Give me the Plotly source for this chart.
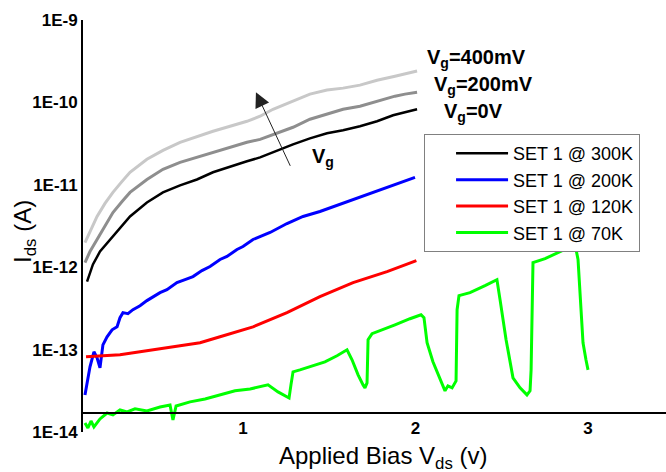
import plotly.graph_objects as go

# ---------------- data ----------------
# SET 1 @ 300K (Vg = 0 V), black
x_300 = [0.096, 0.130, 0.171, 0.229, 0.287, 0.345, 0.443, 0.536, 0.635, 0.733, 0.826, 0.925,
         1.023, 1.099, 1.186, 1.290, 1.388, 1.487, 1.580, 1.678, 1.777, 1.870, 1.939, 2.009]
i_300 = [6.68e-13, 1.08e-12, 1.55e-12, 2.17e-12, 3.03e-12, 4.13e-12, 6.11e-12, 8.09e-12, 9.84e-12,
         1.16e-11, 1.42e-11, 1.67e-11, 1.93e-11, 2.15e-11, 2.55e-11, 3.10e-11, 3.66e-11, 4.22e-11,
         4.59e-11, 5.13e-11, 5.90e-11, 6.98e-11, 7.60e-11, 8.26e-11]

# 300K, Vg = 200 mV (mid grey)
x_vg200 = [0.084, 0.113, 0.154, 0.200, 0.246, 0.299, 0.345, 0.443, 0.536, 0.635, 0.733, 0.826, 0.925,
           1.023, 1.099, 1.214, 1.290, 1.388, 1.487, 1.580, 1.678, 1.777, 1.881, 1.939, 2.009]
i_vg200 = [1.14e-12, 1.55e-12, 2.17e-12, 3.21e-12, 4.61e-12, 6.28e-12, 8.09e-12, 1.16e-11, 1.54e-11,
           1.87e-11, 2.15e-11, 2.48e-11, 2.85e-11, 3.28e-11, 3.56e-11, 4.34e-11, 4.99e-11, 6.25e-11,
           7.18e-11, 8.26e-11, 9.00e-11, 1.04e-10, 1.19e-10, 1.26e-10, 1.33e-10]

# 300K, Vg = 400 mV (light grey)
x_vg400 = [0.084, 0.113, 0.154, 0.200, 0.246, 0.299, 0.345, 0.443, 0.536, 0.635, 0.733, 0.826, 0.925,
           1.023, 1.099, 1.174, 1.272, 1.388, 1.487, 1.580, 1.678, 1.777, 1.881, 1.939, 2.009]
i_vg400 = [1.99e-12, 2.71e-12, 4.13e-12, 5.94e-12, 8.09e-12, 1.10e-11, 1.42e-11, 2.04e-11, 2.62e-11,
           3.28e-11, 3.88e-11, 4.47e-11, 5.13e-11, 5.90e-11, 6.79e-11, 8.26e-11, 1.00e-10, 1.26e-10,
           1.41e-10, 1.49e-10, 1.62e-10, 1.86e-10, 2.08e-10, 2.20e-10, 2.40e-10]

# SET 1 @ 200K, blue
x_200 = [0.084, 0.096, 0.113, 0.136, 0.154, 0.171, 0.188, 0.212, 0.241, 0.270, 0.287, 0.304, 0.333,
         0.362, 0.403, 0.443, 0.478, 0.519, 0.559, 0.617, 0.664, 0.710, 0.762, 0.809, 0.867, 0.907,
         0.965, 1.000, 1.058, 1.099, 1.157, 1.255, 1.348, 1.446, 1.545, 1.638, 1.736, 1.835, 1.910, 1.997]
i_200 = [2.82e-14, 3.94e-14, 6.18e-14, 9.40e-14, 7.94e-14, 6.01e-14, 1.14e-13, 1.43e-13, 1.74e-13,
         1.89e-13, 2.44e-13, 2.81e-13, 2.73e-13, 3.05e-13, 3.41e-13, 3.93e-13, 4.39e-13, 4.91e-13,
         5.33e-13, 6.50e-13, 7.06e-13, 7.69e-13, 9.10e-13, 1.02e-12, 1.24e-12, 1.35e-12, 1.64e-12,
         1.78e-12, 2.17e-12, 2.36e-12, 2.64e-12, 3.39e-12, 4.13e-12, 4.74e-12, 5.61e-12, 6.64e-12,
         7.85e-12, 9.29e-12, 1.04e-11, 1.23e-11]

# SET 1 @ 120K, red
x_120 = [0.090, 0.171, 0.287, 0.403, 0.559, 0.751, 0.867, 1.058, 1.255, 1.446, 1.638, 1.835, 2.005]
i_120 = [8.17e-14, 8.41e-14, 8.65e-14, 9.40e-14, 1.05e-13, 1.21e-13, 1.43e-13, 1.89e-13, 2.81e-13,
         4.39e-13, 6.50e-13, 8.83e-13, 1.20e-12]

# SET 1 @ 70K, green
x_70 = [0.084, 0.101, 0.119, 0.136, 0.171, 0.212, 0.246, 0.287, 0.328, 0.374, 0.443, 0.519, 0.577,
        0.594, 0.612, 0.693, 0.780, 0.867, 0.954, 1.041, 1.110, 1.145, 1.203, 1.267, 1.278, 1.290,
        1.330, 1.406, 1.475, 1.545, 1.603, 1.632, 1.667, 1.696, 1.707, 1.719, 1.725, 1.748, 1.794,
        1.881, 1.968, 2.032, 2.049, 2.067, 2.101, 2.142, 2.171, 2.188, 2.212, 2.235, 2.241, 2.252,
        2.316, 2.403, 2.472, 2.490, 2.525, 2.565, 2.606, 2.646, 2.664, 2.670, 2.681, 2.751, 2.838,
        2.925, 2.942, 2.954, 2.971, 2.988, 3.000]
i_70 = [1.29e-14, 1.12e-14, 1.36e-14, 1.15e-14, 1.44e-14, 1.70e-14, 1.61e-14, 1.85e-14, 1.75e-14,
        1.91e-14, 1.80e-14, 2.01e-14, 2.13e-14, 1.40e-14, 2.07e-14, 2.32e-14, 2.52e-14, 2.82e-14,
        3.16e-14, 3.33e-14, 3.63e-14, 3.73e-14, 3.07e-14, 2.59e-14, 3.73e-14, 5.37e-14, 5.68e-14,
        6.35e-14, 7.11e-14, 8.41e-14, 9.95e-14, 7.52e-14, 4.93e-14, 3.73e-14, 3.43e-14, 3.94e-14,
        1.32e-13, 1.56e-13, 1.69e-13, 2.00e-13, 2.37e-13, 2.65e-13, 2.44e-13, 1.21e-13, 7.11e-14,
        4.30e-14, 3.16e-14, 3.63e-14, 3.43e-14, 4.17e-14, 3.05e-13, 4.52e-13, 4.91e-13, 5.97e-13,
        7.06e-13, 4.04e-13, 1.32e-13, 4.54e-14, 3.43e-14, 2.82e-14, 3.16e-14, 5.68e-14, 1.14e-12,
        1.27e-12, 1.55e-12, 1.88e-12, 1.24e-12, 4.04e-13, 1.21e-13, 7.52e-14, 5.68e-14]

legend_names = ["SET 1 @ 300K", "SET 1 @ 200K", "SET 1 @ 120K", "SET 1 @ 70K"]
x_ticks = [1, 2, 3]
y_tickvals = [1e-14, 1e-13, 1e-12, 1e-11, 1e-10, 1e-9]
y_ticktext = ["1E-14", "1E-13", "1E-12", "1E-11", "1E-10", "1E-9"]

FONT = "Arial, Liberation Sans, sans-serif"

fig = go.Figure()
fig.add_trace(go.Scatter(x=x_vg400, y=i_vg400, mode="lines", line=dict(color="#c8c8c8", width=3),
                         showlegend=False, hoverinfo="skip"))
fig.add_trace(go.Scatter(x=x_vg200, y=i_vg200, mode="lines", line=dict(color="#8e8e8e", width=3),
                         showlegend=False, hoverinfo="skip"))
fig.add_trace(go.Scatter(x=x_300, y=i_300, mode="lines", name=legend_names[0],
                         line=dict(color="#000000", width=2.5)))
fig.add_trace(go.Scatter(x=x_200, y=i_200, mode="lines", name=legend_names[1],
                         line=dict(color="#0000ff", width=3)))
fig.add_trace(go.Scatter(x=x_120, y=i_120, mode="lines", name=legend_names[2],
                         line=dict(color="#ff0000", width=3)))
fig.add_trace(go.Scatter(x=x_70, y=i_70, mode="lines", name=legend_names[3],
                         line=dict(color="#00ff00", width=3)))

fig.update_layout(
    width=666, height=472,
    margin=dict(l=83, r=0, t=20, b=40),
    plot_bgcolor="white", paper_bgcolor="white",
    font=dict(family=FONT, color="black"),
    xaxis=dict(range=[0.0725, 3.452], anchor="free", position=0.046,
               showline=True, linecolor="black", linewidth=2, showgrid=False, zeroline=False,
               tickvals=x_ticks, ticktext=["<b>1</b>", "<b>2</b>", "<b>3</b>"], ticks="",
               tickfont=dict(size=17, family=FONT, color="black")),
    yaxis=dict(type="log", range=[-14, -9], showline=True, linecolor="black", linewidth=2,
               showgrid=False, zeroline=False, tickvals=y_tickvals,
               ticktext=["<b>%s</b>" % t for t in y_ticktext], ticks="",
               tickfont=dict(size=17, family=FONT, color="black")),
    legend=dict(x=0.585, y=0.723, xanchor="left", yanchor="top",
                bordercolor="#808080", borderwidth=1, bgcolor="white",
                font=dict(size=18, family=FONT, color="black"),
                itemwidth=52, indentation=26, tracegroupgap=0),
    showlegend=True,
)

annotations = [
    # axis titles
    dict(text="Applied Bias V<sub>ds</sub> (v)", xref="paper", yref="paper", x=0.515, y=-0.061,
         showarrow=False, font=dict(size=24, family=FONT), xanchor="center", yanchor="middle"),
    dict(text="I<sub>ds</sub> (A)", xref="paper", yref="paper", x=-0.0995, y=0.488, textangle=-90,
         showarrow=False, font=dict(size=24, family=FONT), xanchor="center", yanchor="middle"),
    # gate voltage labels
    dict(text="<b>V<sub>g</sub>=400mV</b>", x=2.055, y=-9.470, xref="x", yref="y", showarrow=False,
         xanchor="left", yanchor="middle", font=dict(size=20, family=FONT)),
    dict(text="<b>V<sub>g</sub>=200mV</b>", x=2.096, y=-9.795, xref="x", yref="y", showarrow=False,
         xanchor="left", yanchor="middle", font=dict(size=20, family=FONT)),
    dict(text="<b>V<sub>g</sub>=0V</b>", x=2.153, y=-10.120, xref="x", yref="y", showarrow=False,
         xanchor="left", yanchor="middle", font=dict(size=20, family=FONT)),
    # arrow and label
    dict(text="", x=1.075, y=-9.876, ax=1.278, ay=-10.788, xref="x", yref="y", axref="x", ayref="y",
         showarrow=True, arrowhead=2, arrowsize=3, arrowwidth=1, arrowcolor="#222222"),
    dict(text="<b>V<sub>g</sub></b>", x=1.388, y=-10.665, xref="x", yref="y", showarrow=False,
         xanchor="left", yanchor="middle", font=dict(size=20, family=FONT)),
]
fig.update_layout(annotations=annotations)

fig.write_html("out.html", config={"displayModeBar": False},
               post_script="document.body.style.margin='0';document.body.style.padding='0';")
